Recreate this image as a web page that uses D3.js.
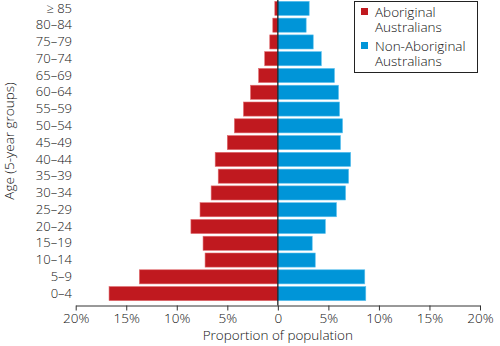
<!DOCTYPE html>
<html><head><meta charset="utf-8">
<script src="https://cdn.jsdelivr.net/npm/d3@7"></script>
<style>
body{margin:0;background:#fff;}
text{font-family:"Open Sans",sans-serif;fill:#111;font-weight:300;}
</style></head>
<body><svg id="c" width="500" height="346"></svg>
<script>
const ageGroups = ["≥ 85","80–84","75–79","70–74","65–69","60–64","55–59","50–54","45–49","40–44","35–39","30–34","25–29","20–24","15–19","10–14","5–9","0–4"];
const aboriginal = [0.3,0.5,0.8,1.3,1.9,2.7,3.4,4.3,5.0,6.2,5.9,6.6,7.7,8.6,7.4,7.2,13.7,16.7];
const nonAboriginal = [3.1,2.8,3.5,4.3,5.6,6.0,6.1,6.4,6.2,7.2,7.0,6.7,5.8,4.7,3.4,3.7,8.6,8.7];
const xTicks = [-20,-15,-10,-5,0,5,10,15,20];
const legendLines = [["Aboriginal","Australians"],["Non-Aboriginal","Australians"]];
const colors = ["#c0191f","#0095d8"];

const svg = d3.select("#c");
const x = d3.scaleLinear().domain([-20,20]).range([75.7,480]);
const y = d3.scaleBand().domain(ageGroups).range([0,302]).paddingInner(0.16).paddingOuter(0.08);

const g = svg.append("g");
g.selectAll("rect.ab").data(ageGroups).join("rect")
  .attr("x", (d,i)=>x(-aboriginal[i])).attr("y", d=>y(d))
  .attr("width", (d,i)=>x(0)-x(-aboriginal[i])).attr("height", y.bandwidth())
  .attr("fill", colors[0]).attr("stroke","#e06a6e").attr("stroke-width",0.6);
g.selectAll("rect.na").data(ageGroups).join("rect")
  .attr("x", x(0)).attr("y", d=>y(d))
  .attr("width", (d,i)=>x(nonAboriginal[i])-x(0)).attr("height", y.bandwidth())
  .attr("fill", colors[1]).attr("stroke","#5cc0ee").attr("stroke-width",0.6);

svg.append("line").attr("x1",x(0)).attr("x2",x(0)).attr("y1",0).attr("y2",305.5)
  .attr("stroke","#111").attr("stroke-width",1.2);

const xa = svg.append("g").attr("transform","translate(0,305.5)")
  .call(d3.axisBottom(x).tickValues(xTicks).tickSize(5).tickPadding(3).tickSizeOuter(0)
  .tickFormat(d=> d===0 ? "0" : Math.abs(d)+"%"));
xa.select(".domain").attr("stroke","#333");
xa.selectAll(".tick line").attr("stroke","#333");
xa.selectAll("text").attr("font-size",13.5).attr("fill","#111").style("font-family","'Open Sans',sans-serif").style("font-weight",300);

const ya = svg.append("g").attr("transform","translate(72,0)")
  .call(d3.axisLeft(y).tickSize(0).tickPadding(0));
ya.select(".domain").remove();
ya.selectAll("text").attr("font-size",13).attr("fill","#111").style("font-family","'Open Sans',sans-serif").style("font-weight",300);

svg.append("text").attr("x",x(0)).attr("y",340).attr("text-anchor","middle").attr("font-size",13.5).text("Proportion of population");
svg.append("text").attr("transform","translate(14,141) rotate(-90)").attr("text-anchor","middle").attr("font-size",13.5).text("Age (5-year groups)");

const lg = svg.append("g");
lg.append("rect").attr("x",354.5).attr("y",1.5).attr("width",123).attr("height",71).attr("fill","#fff").attr("stroke","#222").attr("stroke-width",1);
legendLines.forEach((l,i)=>{
  const y0 = 17 + i*34;
  lg.append("rect").attr("x",361).attr("y",y0-9).attr("width",7).attr("height",7).attr("fill",colors[i]);
  const t = lg.append("text").attr("x",375).attr("y",y0).attr("font-size",13.5);
  l.forEach((s,j)=>t.append("tspan").attr("x",375).attr("dy", j===0?0:15).text(s));
});
</script></body></html>
